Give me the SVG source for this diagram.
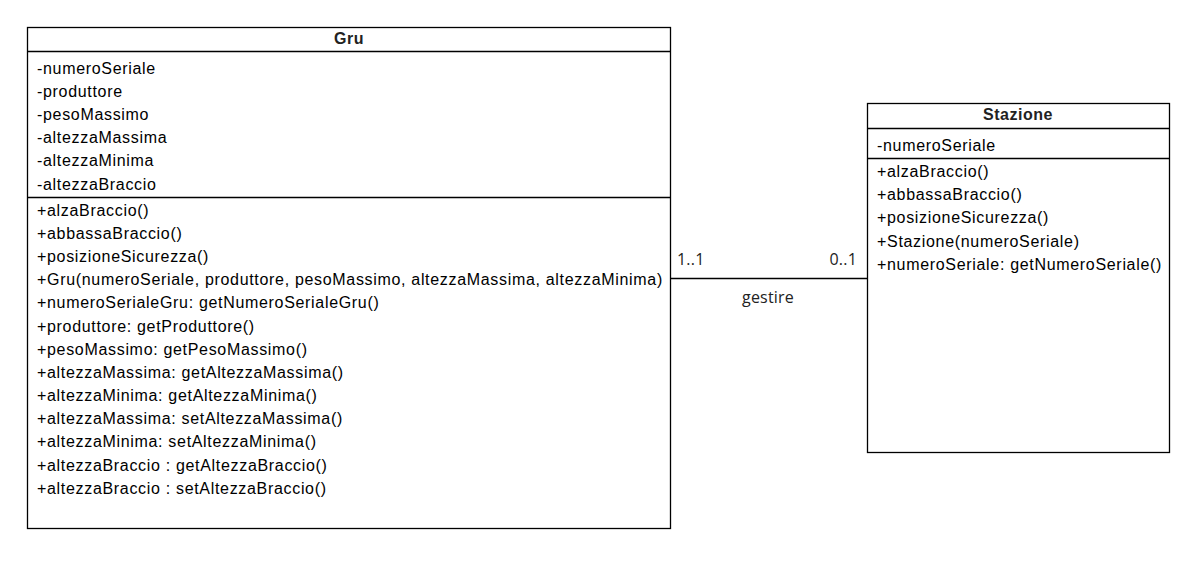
<svg xmlns="http://www.w3.org/2000/svg" width="1203" height="565" viewBox="0 0 1203 565">
<style>
.box{fill:#fff;stroke:#000;stroke-width:1.3}
.div{stroke:#000;stroke-width:1.3}
.t{font-family:"Liberation Sans",Arial,sans-serif;font-size:16px;letter-spacing:0.68px;fill:#000}
.h{font-family:"Liberation Sans",Arial,sans-serif;font-size:16px;letter-spacing:0.5px;font-weight:bold;fill:#222;text-anchor:middle}
.l{font-family:"Open Sans","Noto Sans",sans-serif;font-size:16px;letter-spacing:0.2px;fill:#222}
</style>
<rect width="1203" height="565" fill="#fff"/>
<g id="connectors">
<line class="div" x1="671" y1="278.5" x2="867" y2="278.5"/>
<text class="l" x="677" y="265">1..1</text>
<text class="l" x="857" y="265" text-anchor="end">0..1</text>
<text class="l" x="768" y="303" text-anchor="middle">gestire</text>
</g>
<g id="Gru">
<rect class="box" x="27.5" y="27.5" width="643" height="501"/>
<line class="div" x1="27.5" y1="51.5" x2="670.5" y2="51.5"/>
<line class="div" x1="27.5" y1="197.5" x2="670.5" y2="197.5"/>
<text class="h" x="349" y="44">Gru</text>
<text class="t" x="37" y="74">-numeroSeriale</text>
<text class="t" x="37" y="97">-produttore</text>
<text class="t" x="37" y="120">-pesoMassimo</text>
<text class="t" x="37" y="143">-altezzaMassima</text>
<text class="t" x="37" y="166">-altezzaMinima</text>
<text class="t" x="37" y="190">-altezzaBraccio</text>
<text class="t" x="37" y="216">+alzaBraccio()</text>
<text class="t" x="37" y="239">+abbassaBraccio()</text>
<text class="t" x="37" y="262">+posizioneSicurezza()</text>
<text class="t" x="37" y="285">+Gru(numeroSeriale, produttore, pesoMassimo, altezzaMassima, altezzaMinima)</text>
<text class="t" x="37" y="308">+numeroSerialeGru: getNumeroSerialeGru()</text>
<text class="t" x="37" y="332">+produttore: getProduttore()</text>
<text class="t" x="37" y="355">+pesoMassimo: getPesoMassimo()</text>
<text class="t" x="37" y="378">+altezzaMassima: getAltezzaMassima()</text>
<text class="t" x="37" y="401">+altezzaMinima: getAltezzaMinima()</text>
<text class="t" x="37" y="424">+altezzaMassima: setAltezzaMassima()</text>
<text class="t" x="37" y="447">+altezzaMinima: setAltezzaMinima()</text>
<text class="t" x="37" y="471">+altezzaBraccio : getAltezzaBraccio()</text>
<text class="t" x="37" y="494">+altezzaBraccio : setAltezzaBraccio()</text>
</g>
<g id="Stazione">
<rect class="box" x="867.5" y="103.5" width="302" height="349"/>
<line class="div" x1="867.5" y1="128.5" x2="1169.5" y2="128.5"/>
<line class="div" x1="867.5" y1="158.5" x2="1169.5" y2="158.5"/>
<text class="h" x="1018" y="120">Stazione</text>
<text class="t" x="877" y="151">-numeroSeriale</text>
<text class="t" x="877" y="177">+alzaBraccio()</text>
<text class="t" x="877" y="200">+abbassaBraccio()</text>
<text class="t" x="877" y="223">+posizioneSicurezza()</text>
<text class="t" x="877" y="247">+Stazione(numeroSeriale)</text>
<text class="t" x="877" y="270">+numeroSeriale: getNumeroSeriale()</text>
</g>
</svg>
